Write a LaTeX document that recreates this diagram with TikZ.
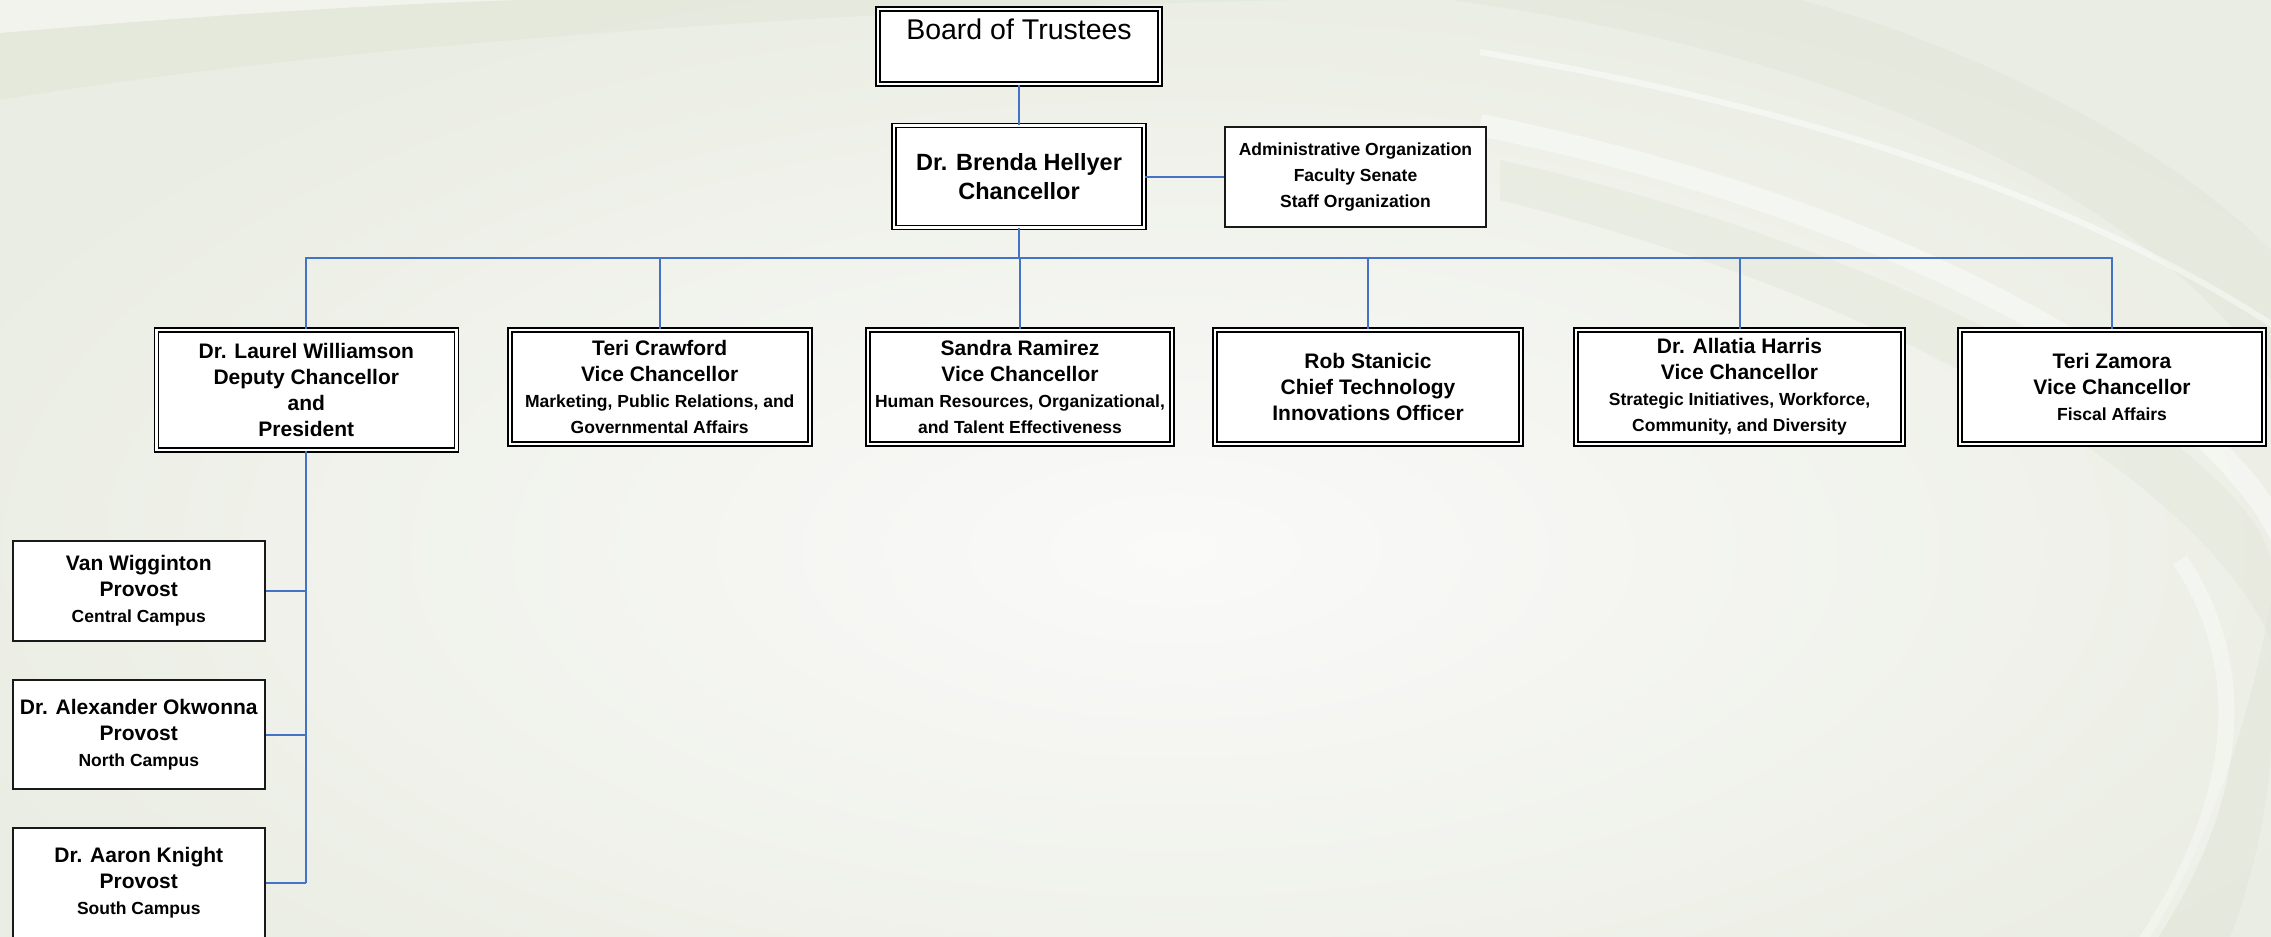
\documentclass[tikz,border=0pt]{standalone}
\usepackage{fontspec}
\setmainfont{Liberation Sans}
\definecolor{bgedge}{HTML}{EAEDE3}
\definecolor{bgcenter}{HTML}{FAFAF9}
\definecolor{swdark}{HTML}{E2E6D8}
\definecolor{conn}{HTML}{4472C4}
\tikzset{
  dbl/.style={draw=black, line width=1.6pt, double=white, double distance=2.4pt, fill=white,
    inner sep=0pt, align=center, font=\fontsize{21}{26}\selectfont\bfseries},
  sgl/.style={draw=black!90, line width=2pt, fill=white, inner sep=0pt, align=center,
    font=\fontsize{21}{26}\selectfont\bfseries},
  link/.style={draw=conn, line width=2pt},
}
\newcommand\subt[1]{{\fontsize{17.5}{26}\selectfont #1}}
\begin{document}
\begin{tikzpicture}[x=1pt,y=-1pt]
\useasboundingbox (0,0) rectangle (2271,937);
\clip (0,0) rectangle (2271,937);
% background
\fill[bgedge] (0,0) rectangle (2271,937);
\shade[inner color=bgcenter, outer color=bgedge] (-150,-50) rectangle (2500,1150);
% top-left swoosh band
\fill[swdark, opacity=0.55] (0,33) .. controls (150,20) and (350,5) .. (520,0) -- (1300,0)
  .. controls (800,10) and (300,50) .. (0,100) -- cycle;
\fill[white, opacity=0.35] (0,0) -- (520,0) .. controls (350,5) and (150,20) .. (0,33) -- cycle;
% top-right swooshes
\fill[swdark, opacity=0.5] (1450,0) .. controls (1900,60) and (2180,230) .. (2271,380)
  -- (2271,250) .. controls (2150,130) and (1950,40) .. (1800,0) -- cycle;
\draw[white, opacity=0.45, line width=6pt] (1480,52) .. controls (1880,120) and (2130,230) .. (2280,330);
\draw[white, opacity=0.4, line width=22pt] (1480,125) .. controls (1950,220) and (2250,420) .. (2290,560);
\fill[swdark, opacity=0.45] (1500,160) .. controls (1950,260) and (2250,460) .. (2271,560)
  -- (2271,640) .. controls (2200,480) and (1900,300) .. (1500,200) -- cycle;
% lower-right swooshes
\fill[swdark, opacity=0.5] (2271,600) .. controls (2250,720) and (2210,840) .. (2150,937)
  -- (2230,937) .. controls (2260,860) and (2271,780) .. (2271,740) -- cycle;
\draw[white, opacity=0.35, line width=16pt] (2180,560) .. controls (2260,680) and (2230,820) .. (2140,950);

% nodes
\node[dbl, minimum width=282pt, minimum height=75pt, font=\fontsize{28.5}{34}\selectfont] (bot) at (1019,46.5) {Board of Trustees\\\mbox{}};
\node[dbl, minimum width=250pt, minimum height=102pt, font=\fontsize{23.5}{29}\selectfont\bfseries] (chan) at (1019,176.6) {Dr. Brenda Hellyer\\Chancellor};
\node[sgl, minimum width=261pt, minimum height=100pt, font=\fontsize{17.5}{26}\selectfont\bfseries] (adm) at (1355.5,176.6) {Administrative Organization\\Faculty Senate\\Staff Organization};

\node[dbl, minimum width=300pt, minimum height=120pt] (will) at (306.3,390) {Dr. Laurel Williamson\\Deputy Chancellor\\and\\President};
\node[dbl, minimum width=300pt, minimum height=114pt] (craw) at (659.7,387) {Teri Crawford\\Vice Chancellor\\\subt{Marketing, Public Relations, and}\\\subt{Governmental Affairs}};
\node[dbl, minimum width=304pt, minimum height=114pt] (ram) at (1020,387) {Sandra Ramirez\\Vice Chancellor\\\subt{Human Resources, Organizational,}\\\subt{and Talent Effectiveness}};
\node[dbl, minimum width=306pt, minimum height=114pt] (stan) at (1368,387) {Rob Stanicic\\Chief Technology\\Innovations Officer};
\node[dbl, minimum width=327pt, minimum height=114pt] (harr) at (1739.5,387) {Dr. Allatia Harris\\Vice Chancellor\\\subt{Strategic Initiatives, Workforce,}\\\subt{Community, and Diversity}};
\node[dbl, minimum width=304pt, minimum height=114pt] (zam) at (2112,387) {Teri Zamora\\Vice Chancellor\\\subt{Fiscal Affairs}};

\node[sgl, minimum width=252pt, minimum height=100pt] (p1) at (138.8,590.8) {Van Wigginton\\Provost\\\subt{Central Campus}};
\node[sgl, minimum width=252pt, minimum height=109pt] (p2) at (138.8,734.5) {Dr. Alexander Okwonna\\Provost\\\subt{North Campus}};
\node[sgl, minimum width=252pt, minimum height=110pt] (p3) at (138.8,883) {Dr. Aaron Knight\\Provost\\\subt{South Campus}};

% connectors
\coordinate (bus) at (0,258);
\draw[link] (bot.south) -- (chan.north);
\draw[link] (chan.east) -- (adm.west);
\foreach \c in {will,craw,ram,stan,harr,zam}
  \draw[link] (chan.south) -- (chan.south |- bus) -| (\c.north);
\coordinate (trunk) at (will.south |- p3.east);
\draw[link] (will.south) -- (trunk);
\foreach \p in {p1,p2,p3}
  \draw[link] (will.south |- \p.east) -- (\p.east);
\end{tikzpicture}
\end{document}
